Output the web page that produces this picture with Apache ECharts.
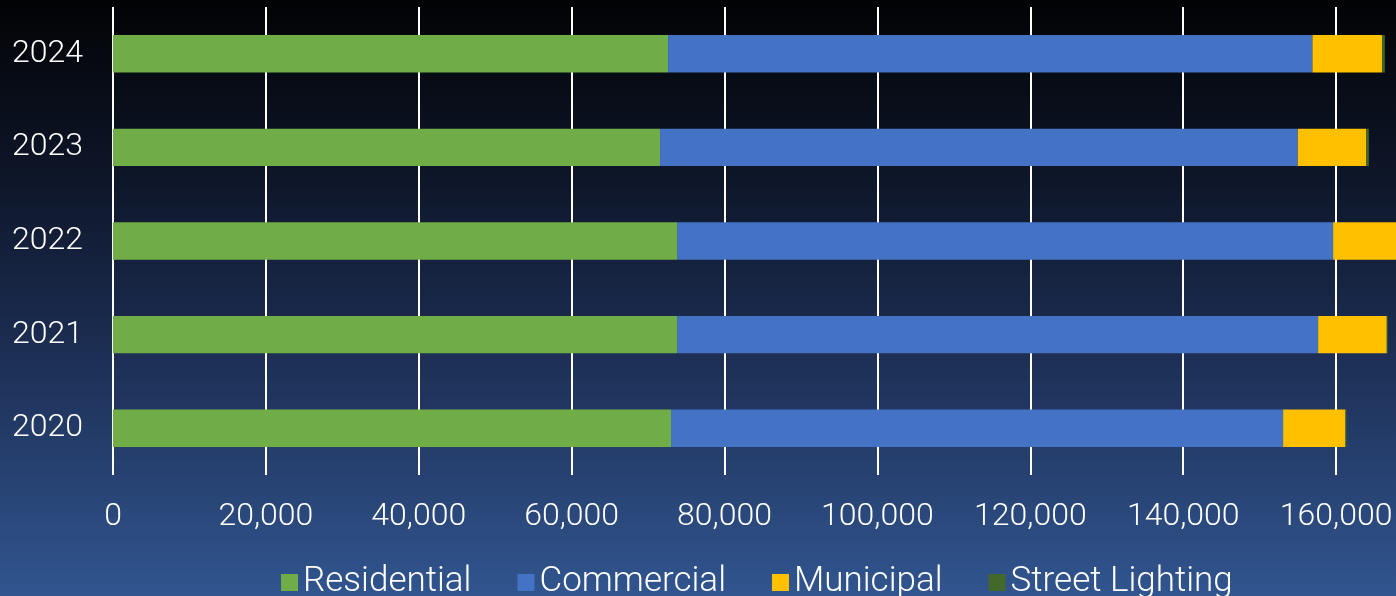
<!DOCTYPE html>
<html>
<head>
<meta charset="utf-8">
<title>Sales by customer class</title>
<script src="https://cdn.jsdelivr.net/npm/echarts@6/dist/echarts.min.js"></script>
<style>
  html, body { margin: 0; padding: 0; overflow: hidden; }
  #chart { width: 1396px; height: 596px; }
</style>
</head>
<body>
<div id="chart"></div>
<script>
// years, bottom to top
const years = ["2020", "2021", "2022", "2023", "2024"];

const residential = [73000, 73790, 73790, 71560, 72610];
const commercial = [80070, 83860, 85820, 83430, 84290];
const municipal = [8150, 8980, 9500, 8970, 9120];
const streetLighting = [130, 100, 330, 320, 350];

const seriesNames = ["Residential", "Commercial", "Municipal", "Street Lighting"];
const seriesColors = ["#70AD47", "#4472C4", "#FFC000", "#43682B"];

const chart = echarts.init(document.getElementById("chart"));

const makeSeries = (name, data, color) => ({
  name: name,
  type: "bar",
  stack: "total",
  data: data,
  barWidth: "40%",
  itemStyle: { color: color },
  emphasis: { disabled: true },
  animation: false
});

chart.setOption({
  backgroundColor: {
    type: "linear",
    x: 0, y: 0, x2: 0, y2: 1,
    colorStops: [
      { offset: 0, color: "#020305" },
      { offset: 0.3, color: "#0e1629" },
      { offset: 0.6, color: "#1d2f55" },
      { offset: 1, color: "#31558f" }
    ]
  },
  textStyle: { fontFamily: "Roboto" },
  // plot runs past the right edge of the canvas, like the original slide
  grid: {
    left: 113,
    top: 7,
    width: 1376,
    height: 468,
    containLabel: false,
    outerBoundsMode: "none"
  },
  legend: {
    data: seriesNames,
    left: 276,
    top: 560,
    itemWidth: 17,
    itemHeight: 17,
    itemGap: 46,
    icon: "rect",
    textStyle: { color: "#ffffff", fontSize: 35, fontFamily: "Roboto", fontWeight: 300 }
  },
  xAxis: {
    type: "value",
    min: 0,
    max: 180000,
    interval: 20000,
    axisLine: { show: false },
    axisTick: { show: false },
    splitLine: { show: true, lineStyle: { color: "#ffffff", width: 2 } },
    axisLabel: {
      color: "#ffffff",
      fontSize: 32,
      fontWeight: 300,
      margin: 26,
      formatter: v => v.toLocaleString("en-US")
    }
  },
  yAxis: {
    type: "category",
    data: years,
    axisLine: { show: false },
    axisTick: { show: false },
    axisLabel: { color: "#ffffff", fontSize: 32, fontWeight: 300, margin: 30, padding: [7, 0, 0, 0] }
  },
  series: [
    makeSeries(seriesNames[0], residential, seriesColors[0]),
    makeSeries(seriesNames[1], commercial, seriesColors[1]),
    makeSeries(seriesNames[2], municipal, seriesColors[2]),
    makeSeries(seriesNames[3], streetLighting, seriesColors[3])
  ]
});
</script>
</body>
</html>
